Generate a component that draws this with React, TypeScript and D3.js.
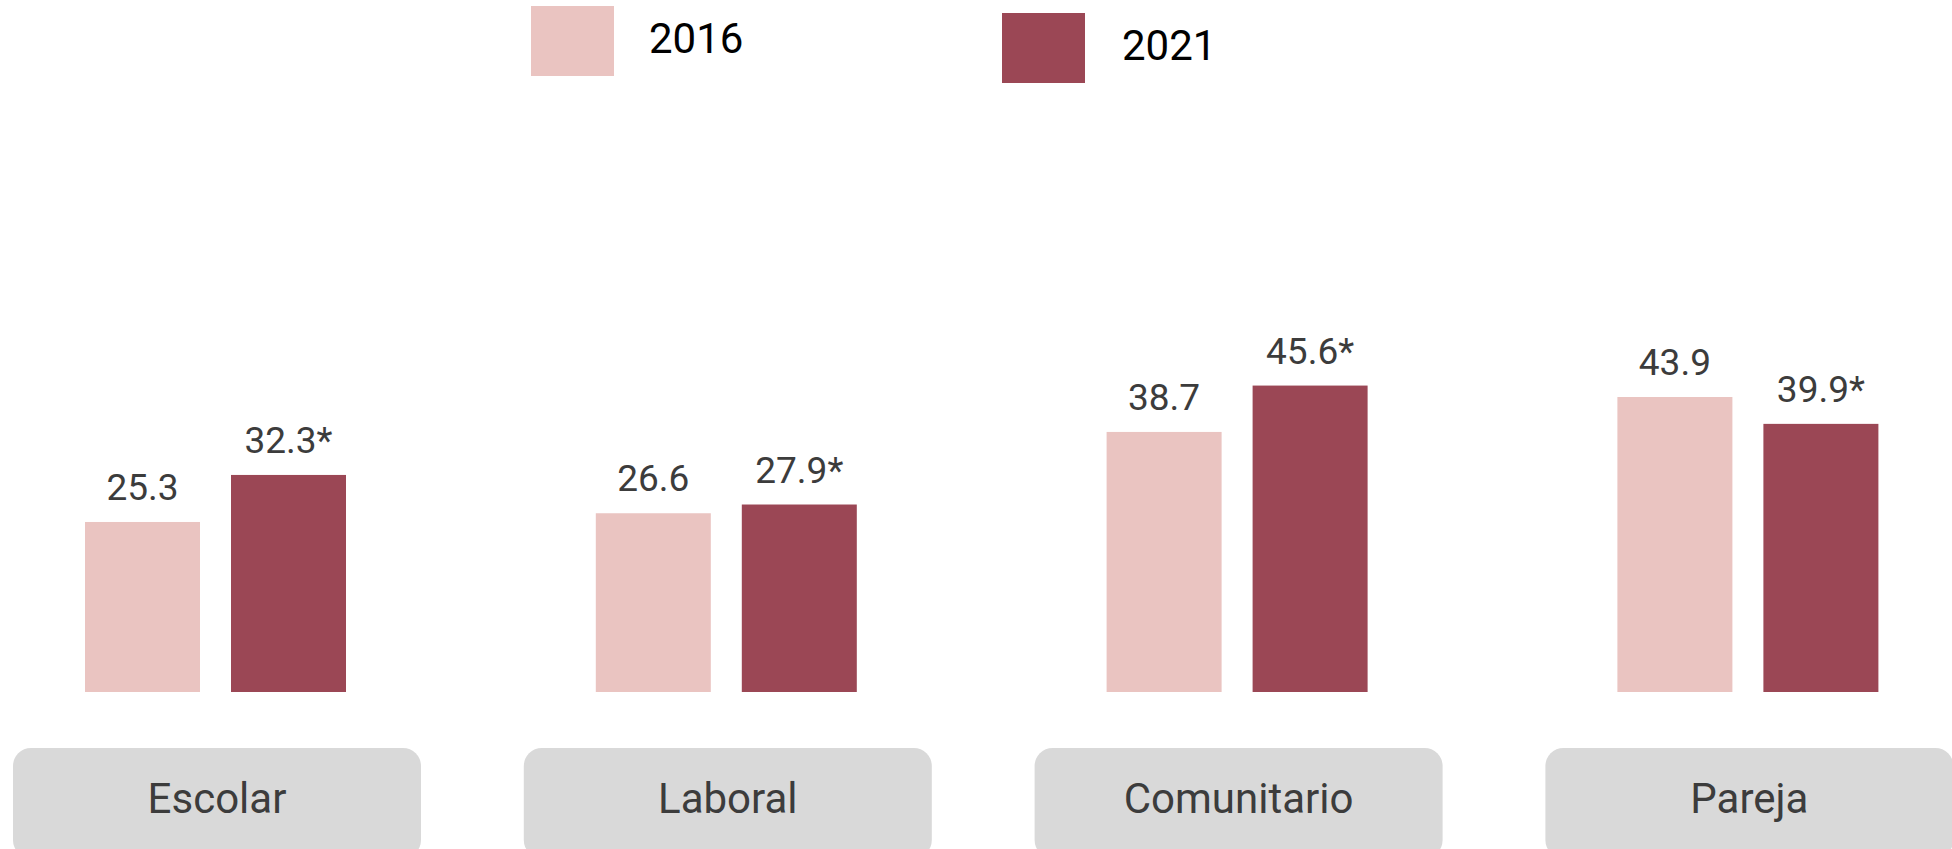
import React from "react";
import * as d3 from "d3";

const categories = ["Escolar", "Laboral", "Comunitario", "Pareja"];
const seriesNames = ["2016", "2021"];
const values2016 = [25.3, 26.6, 38.7, 43.9];
const values2021 = [32.3, 27.9, 45.6, 39.9];
const labels2016 = ["25.3", "26.6", "38.7", "43.9"];
const labels2021 = ["32.3*", "27.9*", "45.6*", "39.9*"];
const colors = ["#EAC4C1", "#9B4755"];

const W = 1952;
const H = 849;
const BASE = 692;
const PX_PER_UNIT = 6.72;
const STEP = 510.8;
const BOX_W = 408;
const FONT = "Roboto, 'Noto Sans', sans-serif";

export default function App() {
  const x0 = d3
    .scaleBand<string>()
    .domain(categories)
    .range([13, 13 + STEP * 4 - (STEP - BOX_W)])
    .paddingInner((STEP - BOX_W) / STEP)
    .paddingOuter(0);
  const x1 = d3
    .scaleBand<string>()
    .domain(seriesNames)
    .range([0, 261])
    .paddingInner(31 / 146)
    .paddingOuter(0);
  const y = d3
    .scaleLinear()
    .domain([0, 100])
    .range([BASE, BASE - 100 * PX_PER_UNIT]);

  const seriesValues = [values2016, values2021];
  const seriesLabels = [labels2016, labels2021];
  const barOffset = 72;

  const legend = [
    { x: 531, y: 6, tx: 649, ty: 53 },
    { x: 1002, y: 13, tx: 1122, ty: 60 },
  ];

  return (
    <svg
      width={W}
      height={H}
      style={{ position: "absolute", left: 0, top: 0, display: "block" }}
    >
      <rect x={0} y={0} width={W} height={H} fill="#ffffff" />
      {seriesNames.map((s, i) => (
        <g key={s}>
          <rect x={legend[i].x} y={legend[i].y} width={83} height={70} fill={colors[i]} />
          <text
            x={legend[i].tx}
            y={legend[i].ty}
            fontFamily={FONT}
            fontSize={42}
            fill="#000000"
          >
            {s}
          </text>
        </g>
      ))}
      {categories.map((c, ci) => {
        const gx = x0(c)!;
        return (
          <g key={c}>
            {seriesNames.map((s, si) => {
              const v = seriesValues[si][ci];
              const bx = gx + barOffset + x1(s)!;
              const bw = x1.bandwidth();
              return (
                <g key={s}>
                  <rect
                    x={bx}
                    y={y(v)}
                    width={bw}
                    height={BASE - y(v)}
                    fill={colors[si]}
                  />
                  <text
                    x={bx + bw / 2}
                    y={y(v) - 22}
                    textAnchor="middle"
                    fontFamily={FONT}
                    fontSize={37}
                    fill="#3c3c3c"
                  >
                    {seriesLabels[si][ci]}
                  </text>
                </g>
              );
            })}
            <rect
              x={gx}
              y={748}
              width={x0.bandwidth()}
              height={110}
              rx={18}
              ry={18}
              fill="#D9D9D9"
            />
            <text
              x={gx + x0.bandwidth() / 2}
              y={813}
              textAnchor="middle"
              fontFamily={FONT}
              fontSize={42}
              fill="#3c3c3c"
            >
              {c}
            </text>
          </g>
        );
      })}
    </svg>
  );
}
